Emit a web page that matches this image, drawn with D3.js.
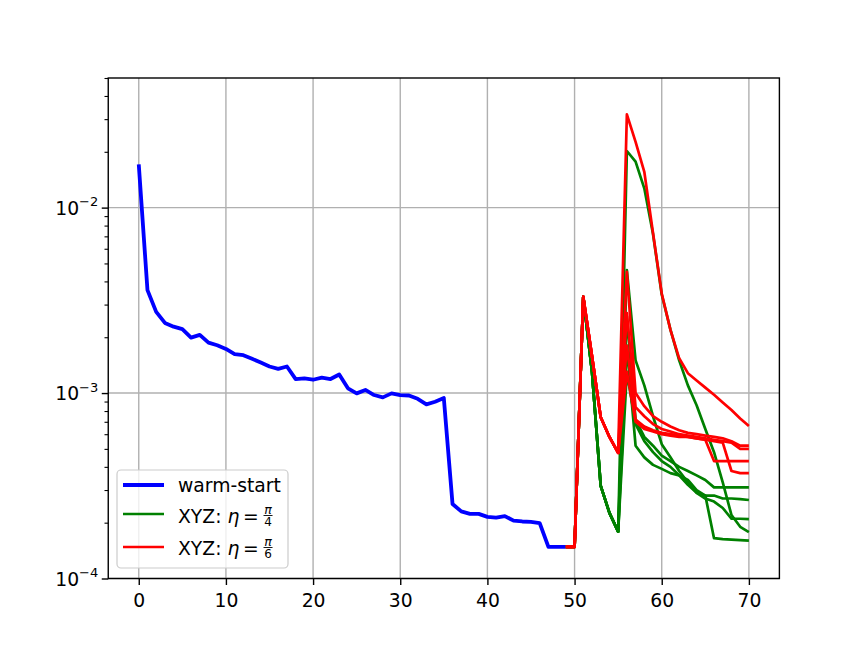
<!DOCTYPE html>
<html>
<head>
<meta charset="utf-8">
<script src="https://cdn.jsdelivr.net/npm/d3@7"></script>
<style>
  body { margin: 0; background: #fff; }
  text { font-family: "DejaVu Sans", sans-serif; }
</style>
</head>
<body>
<div id="chart"></div>
<script>
// warm-start curve, iterations 0..49
const warmStart = [0.0171, 0.00359, 0.00274, 0.00239, 0.00228, 0.00221, 0.00199, 0.00206, 0.00187, 0.00181,
    0.00173, 0.00162, 0.0016, 0.00153, 0.00146, 0.00139, 0.00135, 0.00139, 0.00119, 0.0012,
    0.00118, 0.00121, 0.00119, 0.00126, 0.00106, 0.000996, 0.00104, 0.000976, 0.000948, 0.000996,
    0.000974, 0.00097, 0.000931, 0.000869, 0.000898, 0.00094, 0.000252, 0.00023, 0.000223, 0.000223,
    0.000215, 0.000213, 0.000217, 0.000205, 0.000203, 0.000202, 0.000199, 0.000148, 0.000148, 0.000148];

// XYZ runs start at iteration 49
const xyzStart = 49;
const greenHead = [0.000148, 0.000148, 0.0033, 0.0013, 0.000316, 0.000226, 0.000179];
const redHead = [0.000148, 0.000148, 0.0033, 0.00158, 0.00074, 0.00058, 0.000476];

// iterations 56..70, one array per run
const greenTails = [
    [0.0202, 0.0177, 0.0127, 0.0072, 0.0034, 0.0022, 0.0015, 0.0011, 0.00086, 0.00064, 0.00048, 0.00033, 0.00022, 0.00019, 0.000178],
    [0.0046, 0.0015, 0.0011, 0.00075, 0.00053, 0.00045, 0.00038, 0.00033, 0.00029, 0.00027, 0.00026, 0.00024, 0.00021, 0.00021, 0.000209],
    [0.0026, 0.00072, 0.00058, 0.00052, 0.00046, 0.00043, 0.0004, 0.00038, 0.00036, 0.00034, 0.00031, 0.00031, 0.00031, 0.00031, 0.00031],
    [0.0018, 0.00052, 0.00045, 0.00041, 0.00039, 0.00037, 0.00036, 0.00034, 0.0003, 0.00028, 0.000165, 0.000163, 0.000162, 0.000161, 0.00016],
    [0.0013, 0.00068, 0.00055, 0.00048, 0.00043, 0.0004, 0.00036, 0.00032, 0.00029, 0.00028, 0.00028, 0.00027, 0.00027, 0.000268, 0.000265]
];
const redTails = [
    [0.0318, 0.0226, 0.0156, 0.0073, 0.00344, 0.00219, 0.00154, 0.00128, 0.00117, 0.00107, 0.00098, 0.00089, 0.00081, 0.00073, 0.000664],
    [0.0045, 0.001, 0.00085, 0.00075, 0.0007, 0.00066, 0.00063, 0.00061, 0.0006, 0.00059, 0.00058, 0.00057, 0.00055, 0.00052, 0.00052],
    [0.0027, 0.00084, 0.00075, 0.00068, 0.00064, 0.00062, 0.0006, 0.00059, 0.00058, 0.00057, 0.00056, 0.00055, 0.00054, 0.0005, 0.0005],
    [0.0018, 0.00072, 0.00066, 0.00063, 0.00061, 0.0006, 0.00059, 0.00058, 0.00057, 0.00056, 0.00043, 0.00043, 0.00043, 0.00043, 0.00043],
    [0.0013, 0.0007, 0.00064, 0.00062, 0.0006, 0.00059, 0.00058, 0.00058, 0.00057, 0.00056, 0.00055, 0.00054, 0.00038, 0.00037, 0.00037]
];

const xTicks = [0, 10, 20, 30, 40, 50, 60, 70];
const yTicks = [1e-4, 1e-3, 1e-2];
const yTickExp = ["\u22124", "\u22123", "\u22122"];

const width = 866, height = 650;
const mLeft = 108.25, mRight = 779.4, mTop = 78, mBottom = 578.5;
const fs = 18.75;

const svg = d3.select("#chart").append("svg")
    .attr("width", width)
    .attr("height", height);

const x = d3.scaleLinear().domain([-3.5, 73.5]).range([mLeft, mRight]);
const y = d3.scaleLog().domain([1e-4, 0.05]).range([mBottom, mTop]);

// minor ticks of the log axis
const yMinor = [];
[1e-4, 1e-3, 1e-2].forEach(p => {
    for (let k = 2; k <= 9; k++) {
        const v = +(k * p).toPrecision(3);
        if (v <= 0.05) yMinor.push(v);
    }
});

// grid
const grid = svg.append("g").attr("stroke", "#b0b0b0").attr("stroke-width", 1.4);
grid.selectAll(".gx").data(xTicks).enter().append("line")
    .attr("x1", d => x(d)).attr("x2", d => x(d))
    .attr("y1", mTop).attr("y2", mBottom);
grid.selectAll(".gy").data(yTicks).enter().append("line")
    .attr("x1", mLeft).attr("x2", mRight)
    .attr("y1", d => y(d)).attr("y2", d => y(d));

// series
const line = d3.line().x(d => x(d[0])).y(d => y(d[1]));
const toPts = (vals, start) => vals.map((v, i) => [start + i, v]);

const plot = svg.append("g");
plot.append("path")
    .attr("d", line(toPts(warmStart, 0)))
    .attr("fill", "none").attr("stroke", "#0000ff").attr("stroke-width", 3.8)
    .attr("stroke-linejoin", "round");

greenTails.forEach(t => {
    plot.append("path")
        .attr("d", line(toPts(greenHead.concat(t), xyzStart)))
        .attr("fill", "none").attr("stroke", "#008000").attr("stroke-width", 2.7)
        .attr("stroke-linejoin", "round");
});
redTails.forEach(t => {
    plot.append("path")
        .attr("d", line(toPts(redHead.concat(t), xyzStart)))
        .attr("fill", "none").attr("stroke", "#ff0000").attr("stroke-width", 2.7)
        .attr("stroke-linejoin", "round");
});

// axes
const xAxis = svg.append("g")
    .attr("transform", "translate(0," + mBottom + ")")
    .call(d3.axisBottom(x).tickValues(xTicks).tickSize(6.5).tickPadding(9).tickSizeOuter(0));
xAxis.select(".domain").remove();
xAxis.selectAll("text").attr("font-size", fs).attr("font-family", "DejaVu Sans").attr("fill", "#000");
xAxis.selectAll("line").attr("stroke", "#000").attr("stroke-width", 1.4);

const yMinorAxis = svg.append("g")
    .attr("transform", "translate(" + mLeft + ",0)")
    .call(d3.axisLeft(y).tickValues(yMinor).tickSize(3.75).tickFormat(""));
yMinorAxis.select(".domain").remove();
yMinorAxis.selectAll("line").attr("stroke", "#000").attr("stroke-width", 1.1);

const yAxis = svg.append("g")
    .attr("transform", "translate(" + mLeft + ",0)")
    .call(d3.axisLeft(y).tickValues(yTicks).tickSize(6.5).tickFormat(""));
yAxis.select(".domain").remove();
yAxis.selectAll("line").attr("stroke", "#000").attr("stroke-width", 1.4);

yTicks.forEach((v, i) => {
    const t = svg.append("text")
        .attr("x", mLeft - 10)
        .attr("y", y(v) + 7)
        .attr("text-anchor", "end")
        .attr("font-size", fs)
        .attr("fill", "#000");
    t.append("tspan").text("10");
    t.append("tspan").attr("dy", -8.5).attr("font-size", 13).text(yTickExp[i]);
});

// frame
svg.append("rect")
    .attr("x", mLeft).attr("y", mTop)
    .attr("width", mRight - mLeft).attr("height", mBottom - mTop)
    .attr("fill", "none").attr("stroke", "#000").attr("stroke-width", 1.4);

// legend
const legend = svg.append("g");
legend.append("rect")
    .attr("x", 117).attr("y", 470).attr("width", 171).attr("height", 98)
    .attr("rx", 4)
    .attr("fill", "#fff").attr("fill-opacity", 0.8)
    .attr("stroke", "#cccccc").attr("stroke-width", 1.2);

const entries = [
    { color: "#0000ff", w: 3.8, ly: 485, ty: 492, label: "warm-start" },
    { color: "#008000", w: 2.7, ly: 514, ty: 523, label: "XYZ: ", den: "4" },
    { color: "#ff0000", w: 2.7, ly: 547, ty: 555, label: "XYZ: ", den: "6" }
];
entries.forEach(e => {
    legend.append("line")
        .attr("x1", 123).attr("x2", 164)
        .attr("y1", e.ly).attr("y2", e.ly)
        .attr("stroke", e.color).attr("stroke-width", e.w);
    const t = legend.append("text")
        .attr("x", 178).attr("y", e.ty)
        .attr("font-size", fs).attr("fill", "#000");
    t.append("tspan").text(e.label);
    if (e.den) {
        t.append("tspan").attr("font-style", "italic").text("\u03b7");
        t.append("tspan").text("\u2009=\u2009");
        const fx = 178 + t.node().getComputedTextLength() + 1;
        const fy = e.ty - 7.5;
        legend.append("text").attr("x", fx + 4.5).attr("y", fy - 2)
            .attr("text-anchor", "middle").attr("font-size", 12.5).attr("font-style", "italic")
            .text("\u03c0");
        legend.append("line")
            .attr("x1", fx).attr("x2", fx + 9)
            .attr("y1", fy).attr("y2", fy)
            .attr("stroke", "#000").attr("stroke-width", 0.9);
        legend.append("text").attr("x", fx + 4.5).attr("y", fy + 10.5)
            .attr("text-anchor", "middle").attr("font-size", 12)
            .text(e.den);
    }
});
</script>
</body>
</html>
